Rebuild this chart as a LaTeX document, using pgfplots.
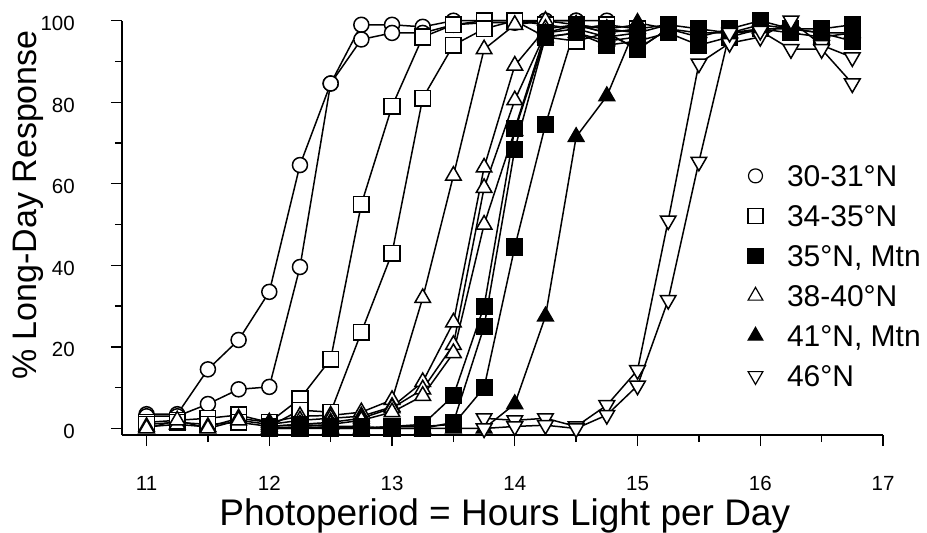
\documentclass[border=0pt]{standalone}
\usepackage{fontspec}
\setmainfont{Liberation Sans}
\usepackage{pgfplots}
\pgfplotsset{compat=1.18}
\newcommand{\tlfont}{\fontsize{20.5}{24}\selectfont}
\pgfplotsset{
 base/.style={black, line width=1.5pt, forget plot},
 oc/.style={base, mark=*, mark size=7.5pt, mark options={fill=white, draw=black, line width=1.5pt}},
 osq/.style={base, mark=square*, mark size=7.8pt, mark options={fill=white, draw=black, line width=1.5pt}},
 fsq/.style={base, mark=square*, mark size=7.8pt, mark options={fill=black, draw=black, line width=1.5pt}},
 otr/.style={base, mark=triangle*, mark size=9pt, mark options={fill=white, draw=black, line width=1.5pt}},
 ftr/.style={base, mark=triangle*, mark size=9pt, mark options={fill=black, draw=black, line width=1.5pt}},
 dtr/.style={base, mark=triangle*, mark size=9pt, mark options={fill=white, draw=black, line width=1.5pt, rotate=180}},
}
\begin{document}
\begin{tikzpicture}
\begin{axis}[
 scale only axis, width=761pt, height=414.3pt,
 xmin=10.8, xmax=17, ymin=-1.6, ymax=100,
 clip=false,
 axis x line*=bottom, axis y line*=left,
 axis line style={line width=2pt, -},
 xtick={11,12,...,17}, ytick={0,20,...,100},
 minor x tick num=1, minor y tick num=1,
 tick align=outside, major tick length=11pt, minor tick length=7pt,
 every tick/.style={line width=1.3pt, black},
 /pgf/number format/assume math mode=true,
 xticklabel={\mbox{\tlfont\pgfmathprintnumber{\tick}}},
 yticklabel={\mbox{\tlfont\pgfmathprintnumber{\tick}}},
 xticklabel style={inner sep=0pt, anchor=base, yshift=-44pt},
 yticklabel style={inner sep=0pt, anchor=east, xshift=-36pt, yshift=-3pt},
 xlabel={Photoperiod = Hours Light per Day},
 ylabel={\% Long-Day Response},
 xlabel style={at={(axis description cs:0.503,-0.2196)}, anchor=base, font=\fontsize{37}{42}\selectfont},
 ylabel style={at={(axis description cs:-0.1121,0.555)}, anchor=base, font=\fontsize{34}{40}\selectfont},
 legend image code/.code={\draw[mark repeat=2, mark phase=2, #1] plot coordinates {(-9pt,0pt) (0pt,0pt) (9pt,0pt)};},
 legend cell align=left,
 legend style={draw=none, fill=none, at={(axis description cs:0.8226,0.652)}, anchor=north west,
   inner sep=0pt, outer sep=0pt, row sep=18pt, column sep=24pt,
   font=\fontsize{30}{36}\selectfont,
   nodes={inner sep=0pt, text height=22pt, text depth=0pt}},
]
\addlegendimage{only marks, mark=*, mark size=7pt, mark options={fill=white, draw=black, line width=1.2pt}}
\addlegendentry{30-31°N}
\addlegendimage{only marks, mark=square*, mark size=7.5pt, mark options={fill=white, draw=black, line width=1.2pt}}
\addlegendentry{34-35°N}
\addlegendimage{only marks, mark=square*, mark size=7.5pt, mark options={fill=black, draw=black, line width=1.2pt}}
\addlegendentry{35°N, Mtn}
\addlegendimage{only marks, mark=triangle*, mark size=8.5pt, mark options={fill=white, draw=black, line width=1.2pt}}
\addlegendentry{38-40°N}
\addlegendimage{only marks, mark=triangle*, mark size=8.5pt, mark options={fill=black, draw=black, line width=1.2pt}}
\addlegendentry{41°N, Mtn}
\addlegendimage{only marks, mark=triangle*, mark size=8.5pt, mark options={fill=white, draw=black, line width=1.2pt, rotate=180}}
\addlegendentry{46°N}

% 30-31 N
\addplot[oc] coordinates {(11,3.5) (11.25,3.5) (11.5,14.5) (11.75,21.7) (12,33.5) (12.25,64.6) (12.5,84.6) (12.75,99) (13,99) (13.25,98.5) (13.5,100) (13.75,100) (14,100) (14.25,100) (14.5,100) (14.75,100)};
\addplot[oc] coordinates {(11,3) (11.25,3) (11.5,6) (11.75,9.6) (12,10.2) (12.25,39.6) (12.5,84.6) (12.75,95.4) (13,97) (13.25,97) (13.5,99) (13.75,99.5) (14,99.5) (14.25,100) (14.5,100)};
% 34-35 N
\addplot[osq] coordinates {(11,1.5) (11.25,2) (11.5,2.5) (11.75,3.3) (12,1.5) (12.25,7.3) (12.5,17) (12.75,55) (13,79) (13.25,96) (13.5,99) (13.75,100) (14,100) (14.25,99) (14.5,98) (14.75,99) (15,98) (15.25,99)};
\addplot[osq] coordinates {(11,1) (11.25,1.5) (11.5,1) (11.75,1.5) (12,0.5) (12.25,4.5) (12.5,4) (12.75,23.6) (13,43) (13.25,81) (13.5,94) (13.75,98) (14,100) (14.25,96) (14.5,95) (14.75,97) (15,93) (15.25,98)};
% 38-40 N
\addplot[otr] coordinates {(11,0.4) (11.25,1) (11.5,0.4) (11.75,2.5) (12,1.5) (12.25,3) (12.5,3.2) (12.75,4) (13,7) (13.25,32) (13.5,62) (13.75,93) (14,99) (14.25,100) (14.5,99) (14.75,98) (15,99)};
\addplot[otr] coordinates {(11,0) (11.25,2) (11.5,0) (11.75,2) (12,1) (12.25,2) (12.5,2.5) (12.75,3) (13,5.3) (13.25,11.4) (13.5,26) (13.75,64) (14,89) (14.25,98) (14.5,99) (14.75,97) (15,98)};
\addplot[otr] coordinates {(12,0.5) (12.25,1) (12.5,1.5) (12.75,2.5) (13,5) (13.25,9.6) (13.5,20.5) (13.75,59) (14,80.5) (14.25,97) (14.5,98) (14.75,96) (15,97)};
\addplot[otr] coordinates {(12.25,0.5) (12.5,1) (12.75,2) (13,4) (13.25,8) (13.5,18.5) (13.75,50) (14,73) (14.25,96) (14.5,97) (14.75,95) (15,96)};
% 41 N Mtn
\addplot[ftr] coordinates {(12,0) (12.25,0) (12.5,0) (12.75,0) (13,0) (13.25,0) (13.5,0) (13.75,0) (14,6) (14.25,27.5) (14.5,71.5) (14.75,81.5) (15,99.5) (15.25,98) (15.5,97) (15.75,97) (16,98) (16.25,98) (16.5,97) (16.75,97)};
% 35 N Mtn
\addplot[fsq] coordinates {(12,0) (12.25,0.5) (12.5,0) (12.75,0) (13,0.5) (13.25,1) (13.5,8) (13.75,30) (14,73.5) (14.25,97) (14.5,99) (14.75,98) (15,97) (15.25,99) (15.5,98) (15.75,97) (16,99) (16.25,98) (16.5,98) (16.75,99)};
\addplot[fsq] coordinates {(12,0.5) (12.25,1) (12.5,0.5) (12.75,0.5) (13,0) (13.25,0) (13.5,1.5) (13.75,25) (14,68.5) (14.25,96) (14.5,97) (14.75,94) (15,95) (15.25,97) (15.5,94) (15.75,96) (16,98) (16.25,97) (16.5,96) (16.75,97)};
\addplot[fsq] coordinates {(12,0) (12.25,0) (12.5,0.5) (12.75,0) (13,0.5) (13.25,0.5) (13.5,1) (13.75,10) (14,44.5) (14.25,74.5) (14.5,99) (14.75,97) (15,93) (15.25,98) (15.5,96) (15.75,98) (16,100) (16.25,98) (16.5,97) (16.75,95)};
% 46 N
\addplot[dtr] coordinates {(13.75,2.5) (14,2) (14.25,2.5) (14.5,0.5) (14.75,5.7) (15,14.3) (15.25,51) (15.5,89.5) (15.75,94.5) (16,96) (16.25,100) (16.5,94) (16.75,91)};
\addplot[dtr] coordinates {(13.75,0) (14,0.5) (14.25,0.8) (14.5,0) (14.75,3.3) (15,10.5) (15.25,31.5) (15.5,65.4) (15.75,97) (16,97.5) (16.25,93) (16.5,93) (16.75,84.6)};
\end{axis}
\pgfresetboundingbox
\path[use as bounding box] ([xshift=-122pt,yshift=-98pt]current axis.south west) rectangle ([xshift=44pt,yshift=20.7pt]current axis.north east);
\end{tikzpicture}
\end{document}
